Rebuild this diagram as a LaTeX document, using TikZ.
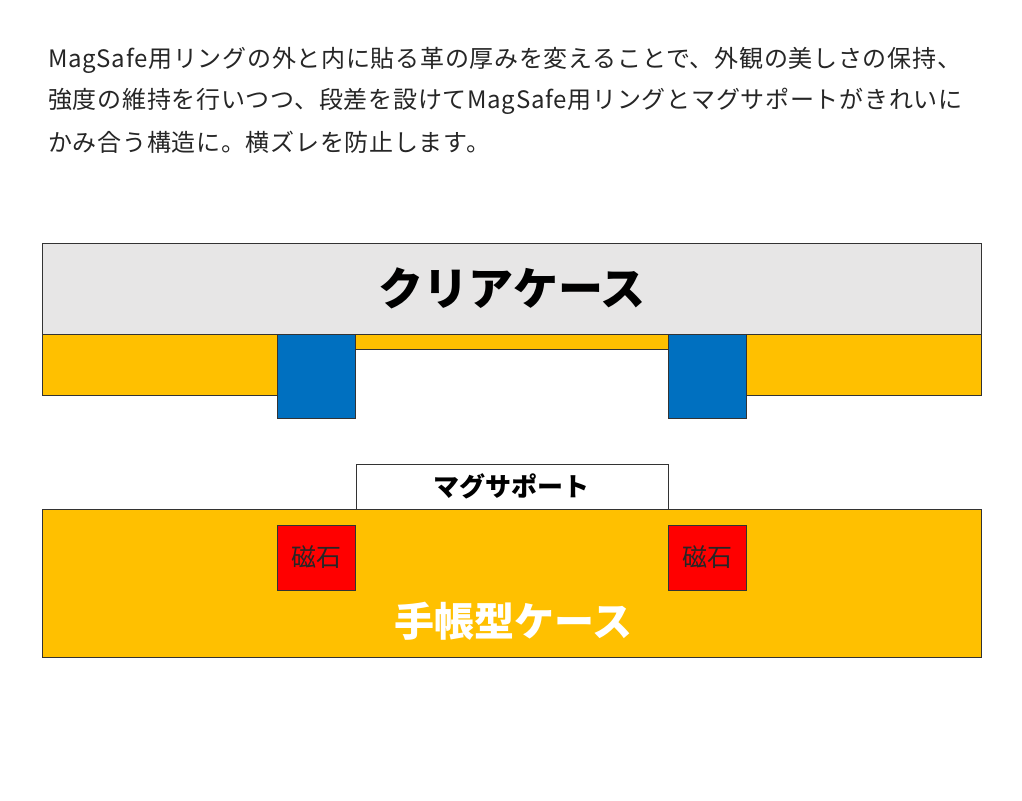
\documentclass[tikz,border=0pt]{standalone}
\usepackage{fontspec}
\setmainfont{Noto Sans CJK JP}
\usepackage{tikz}
\usetikzlibrary{positioning}
\definecolor{leather}{HTML}{FFC000}
\definecolor{ring}{HTML}{0070C0}
\definecolor{clear}{HTML}{E7E6E6}
\definecolor{magnet}{HTML}{FF0000}
\tikzstyle{part} = [draw=black!80,line width=1pt]
\tikzstyle{body} = [anchor=west,inner sep=0pt,text=black!85,font=\fontsize{24}{30}\selectfont\addfontfeature{LetterSpace=3}]

\begin{document}
\begin{tikzpicture}[x=1pt,y=-1pt]
	\useasboundingbox[fill=white] (0,0) rectangle (1022,800);
	% explanatory text
	\node[body] (line1) at (48,60) {MagSafe用リングの外と内に貼る革の厚みを変えることで、外観の美しさの保持、};
	\node[body] (line2) at (48,101) {強度の維持を行いつつ、段差を設けてMagSafe用リングとマグサポートがきれいに};
	\node[body] (line3) at (48,142) {かみ合う構造に。横ズレを防止します。};
	% clear case with leather and ring
	\draw[part,fill=clear] (42,243) rectangle (981,334);
	\draw[part,fill=leather] (42,334) rectangle (277,395);
	\draw[part,fill=leather] (355,334) rectangle (668,349);
	\draw[part,fill=leather] (746,334) rectangle (981,395);
	\draw[part,fill=ring] (277,334) rectangle (355,418);
	\draw[part,fill=ring] (668,334) rectangle (746,418);
	\node[font=\fontsize{45}{50}\selectfont\bfseries] (clearcase) at (512,288) {クリアケース};
	% notebook case
	\draw[part,fill=white] (356,464) rectangle (668,509);
	\draw[part,fill=leather] (42,509) rectangle (981,657);
	\draw[part,fill=magnet] (277,525) rectangle (355,590);
	\draw[part,fill=magnet] (668,525) rectangle (746,590);
	\node[font=\fontsize{26}{30}\selectfont\bfseries] (support) at (511,486) {マグサポート};
	\node[font=\fontsize{25}{30}\selectfont,text=black!85] (magnetL) at (316,557) {磁石};
	\node[font=\fontsize{25}{30}\selectfont,text=black!85] (magnetR) at (707,557) {磁石};
	\node[font=\fontsize{40}{46}\selectfont\bfseries,text=white] (notebook) at (513,621) {手帳型ケース};
\end{tikzpicture}
\end{document}
